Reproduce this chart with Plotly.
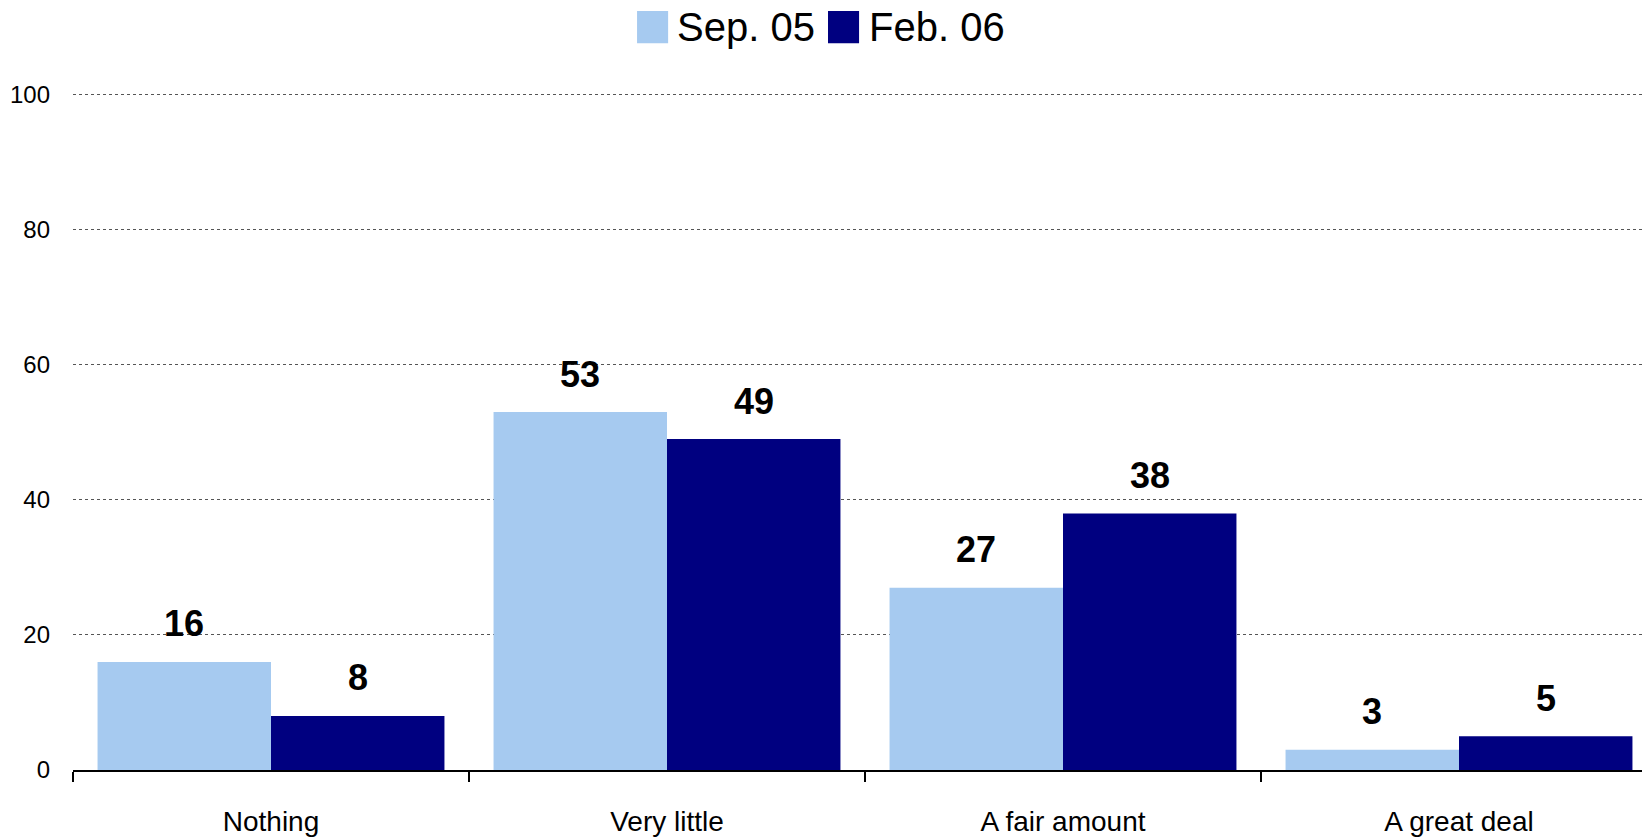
import plotly.graph_objects as go

categories = ["Nothing", "Very little", "A fair amount", "A great deal"]
series_names = ["Sep. 05", "Feb. 06"]
sep05 = [16, 53, 27, 3]
feb06 = [8, 49, 38, 5]
y_ticks = [0, 20, 40, 60, 80, 100]

colors = ["#A6CAF0", "#000080"]
FONT = "Liberation Sans, Arial, sans-serif"

fig = go.Figure()
for name, vals, col in zip(series_names, [sep05, feb06], colors):
    fig.add_trace(go.Bar(x=categories, y=vals, name=name, marker_color=col,
                         marker_line_width=0, showlegend=False))

# value labels above bars
offsets = [-0.219, 0.219]
for vals, off in zip([sep05, feb06], offsets):
    for i, v in enumerate(vals):
        fig.add_annotation(x=i + off, y=v, xref="x", yref="y", text=f"<b>{v}</b>",
                           showarrow=False, yanchor="middle", yshift=38,
                           font=dict(size=36, color="black", family=FONT))

# manual legend (large swatches)
legend_items = [(0.3595, 0.3837), (0.4812, 0.5061)]
for (sx, tx), name, col in zip(legend_items, series_names, colors):
    fig.add_shape(type="rect", xref="paper", yref="paper",
                  x0=sx, x1=sx + 0.0198, y0=1.0720, y1=1.1195,
                  fillcolor=col, line_width=0, layer="above")
    fig.add_annotation(x=tx, y=1.0955, xref="paper", yref="paper", text=name,
                       showarrow=False, xanchor="left", yanchor="middle",
                       font=dict(size=40, color="black", family=FONT))

fig.update_layout(
    width=1642, height=838,
    margin=dict(l=73, r=0, t=92, b=68),
    paper_bgcolor="white", plot_bgcolor="white",
    barmode="group", bargap=0.124, bargroupgap=0,
    font=dict(family=FONT, color="black"),
    showlegend=False,
)
fig.update_xaxes(
    range=[-0.5, -0.5 + 1569 / 396],
    showline=True, linecolor="black", linewidth=1.5,
    ticks="outside", tickson="boundaries", ticklen=10, tickcolor="black", tickwidth=1.5,
    ticklabelstandoff=26,
    tickfont=dict(size=28, color="black", family=FONT),
    showgrid=False,
)
fig.update_yaxes(
    range=[0, 100.4], tickvals=y_ticks,
    showgrid=True, gridcolor="#555555", griddash="dot", gridwidth=1,
    zeroline=False, showline=False, ticks="",
    ticklabelstandoff=22,
    tickfont=dict(size=24, color="black", family=FONT),
)

fig.write_html("out.html", config={"displayModeBar": False},
               post_script="document.body.style.margin='0';")
